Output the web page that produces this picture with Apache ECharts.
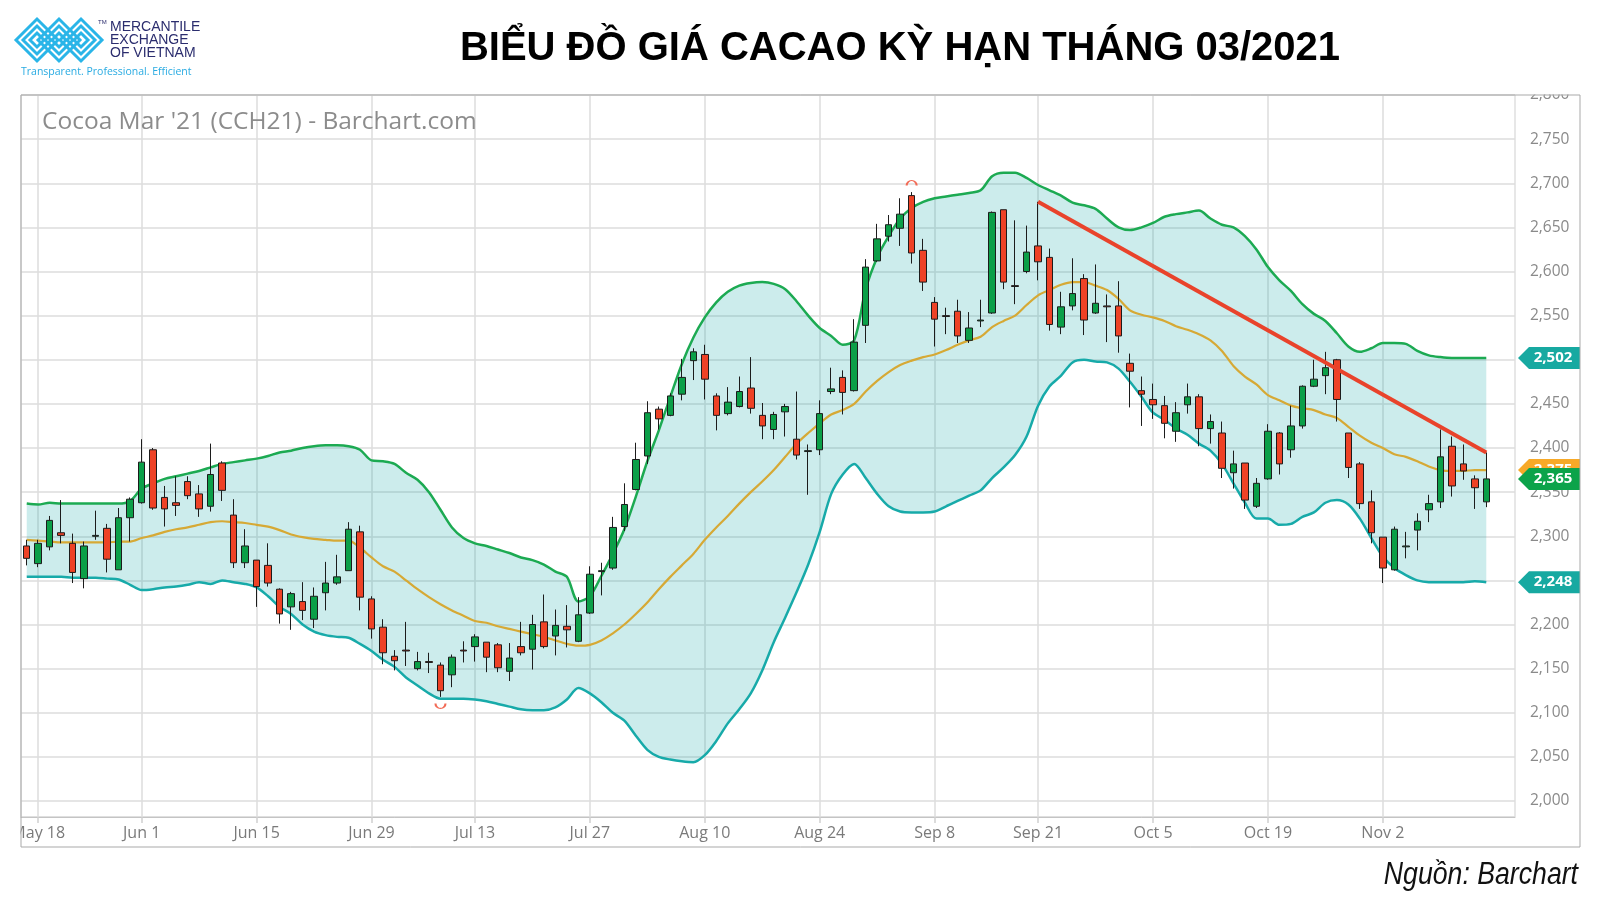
<!DOCTYPE html>
<html><head><meta charset="utf-8">
<script src="https://cdn.jsdelivr.net/npm/echarts@6/dist/echarts.min.js"></script>
<style>html,body{margin:0;padding:0;background:#fff}#c{width:1600px;height:900px}</style>
</head><body><div id="c"></div>
<script>
const dates = ['May 15','May 18','May 19','May 20','May 21','May 22','May 26','May 27','May 28','May 29',
'Jun 1','Jun 2','Jun 3','Jun 4','Jun 5','Jun 8','Jun 9','Jun 10','Jun 11','Jun 12','Jun 15','Jun 16','Jun 17','Jun 18','Jun 19','Jun 22','Jun 23','Jun 24','Jun 25','Jun 26','Jun 29','Jun 30',
'Jul 1','Jul 2','Jul 6','Jul 7','Jul 8','Jul 9','Jul 10','Jul 13','Jul 14','Jul 15','Jul 16','Jul 17','Jul 20','Jul 21','Jul 22','Jul 23','Jul 24','Jul 27','Jul 28','Jul 29','Jul 30','Jul 31',
'Aug 3','Aug 4','Aug 5','Aug 6','Aug 7','Aug 10','Aug 11','Aug 12','Aug 13','Aug 14','Aug 17','Aug 18','Aug 19','Aug 20','Aug 21','Aug 24','Aug 25','Aug 26','Aug 27','Aug 28','Aug 31',
'Sep 1','Sep 2','Sep 3','Sep 4','Sep 8','Sep 9','Sep 10','Sep 11','Sep 14','Sep 15','Sep 16','Sep 17','Sep 18','Sep 21','Sep 22','Sep 23','Sep 24','Sep 25','Sep 28','Sep 29','Sep 30',
'Oct 1','Oct 2','Oct 5','Oct 6','Oct 7','Oct 8','Oct 9','Oct 12','Oct 13','Oct 14','Oct 15','Oct 16','Oct 19','Oct 20','Oct 21','Oct 22','Oct 23','Oct 26','Oct 27','Oct 28','Oct 29','Oct 30',
'Nov 2','Nov 3','Nov 4','Nov 5','Nov 6','Nov 9','Nov 10','Nov 11','Nov 12','Nov 13'];
const padDates = ['Nov 16','Nov 17'];
const tickLabels = ['May 18','Jun 1','Jun 15','Jun 29','Jul 13','Jul 27','Aug 10','Aug 24','Sep 8','Sep 21','Oct 5','Oct 19','Nov 2'];

const opens = [2289,2269,2288,2304,2292,2252,2300,2309,2262,2321,
2338,2398,2344,2338,2362,2348,2334,2383,2324,2270,
2273,2267,2240,2220,2226,2206,2236,2247,2261,2305,
2229,2197,2164,2171,2150,2158,2154,2143,2171,2175,
2180,2177,2147,2175,2172,2203,2187,2198,2181,2213,
2260,2264,2311,2353,2391,2444,2437,2461,2499,2506,
2459,2439,2447,2468,2437,2421,2441,2410,2396,2398,
2464,2480,2465,2539,2612,2640,2649,2686,2624,2565,
2550,2555,2522,2544,2553,2670,2584,2600,2629,2616,
2537,2561,2592,2553,2561,2561,2496,2465,2455,2448,
2419,2449,2458,2422,2417,2372,2383,2334,2365,2417,
2398,2425,2470,2482,2500,2417,2382,2339,2299,2262,
2288,2307,2330,2339,2402,2382,2365,2339];
const closes = [2275,2292,2318,2301,2259,2289,2301,2274,2321,2342,
2384,2332,2331,2335,2346,2331,2370,2352,2270,2289,
2243,2247,2212,2235,2216,2232,2247,2254,2308,2231,
2195,2168,2159,2170,2158,2157,2125,2163,2170,2186,
2163,2151,2162,2168,2200,2175,2199,2194,2211,2257,
2261,2310,2336,2387,2440,2433,2459,2480,2509,2478,
2437,2452,2464,2445,2425,2438,2447,2392,2397,2439,
2467,2463,2520,2605,2637,2653,2665,2621,2588,2546,
2549,2527,2536,2545,2667,2588,2583,2622,2611,2540,
2560,2575,2545,2564,2560,2527,2487,2461,2449,2428,
2440,2458,2422,2430,2377,2382,2341,2360,2419,2382,
2425,2470,2478,2491,2455,2378,2337,2304,2264,2308,
2289,2317,2337,2390,2357,2374,2355,2365];
const lows = [2267,2265,2284,2292,2247,2241,2296,2259,2262,2294,
2337,2330,2311,2323,2342,2322,2328,2340,2264,2264,
2220,2243,2201,2194,2205,2196,2216,2245,2261,2216,
2184,2155,2148,2153,2148,2145,2118,2129,2157,2158,
2146,2146,2136,2165,2149,2173,2165,2174,2180,2212,
2233,2262,2306,2352,2382,2421,2436,2454,2477,2455,
2420,2437,2446,2439,2410,2410,2413,2387,2347,2392,
2461,2438,2464,2519,2611,2634,2629,2609,2578,2515,
2529,2519,2519,2537,2552,2580,2563,2598,2590,2533,
2529,2556,2528,2552,2520,2508,2446,2425,2433,2411,
2407,2439,2402,2405,2366,2354,2331,2332,2364,2370,
2389,2422,2469,2461,2430,2366,2331,2292,2247,2261,
2275,2284,2316,2332,2345,2364,2331,2333];
const highs = [2296,2296,2323,2341,2303,2294,2329,2314,2332,2344,
2410,2400,2357,2368,2368,2358,2405,2385,2342,2308,
2273,2292,2241,2237,2248,2242,2271,2279,2316,2312,
2232,2206,2171,2203,2169,2168,2157,2166,2181,2189,
2180,2179,2179,2203,2211,2234,2217,2222,2231,2266,
2270,2322,2360,2406,2453,2447,2462,2501,2513,2517,
2462,2469,2481,2503,2451,2441,2450,2464,2404,2454,
2491,2488,2546,2614,2654,2664,2683,2690,2637,2571,
2559,2568,2554,2568,2668,2670,2658,2652,2679,2626,
2577,2615,2597,2608,2574,2589,2507,2481,2473,2459,
2452,2473,2461,2438,2430,2397,2383,2366,2427,2418,
2448,2471,2500,2509,2501,2417,2384,2352,2299,2311,
2305,2326,2347,2421,2413,2404,2369,2395];

const upperBand = [2337,2336,2338,2337,2337,2337,2337,2337,2337,2340,
2354,2360,2365,2368,2371,2374,2378,2382,2384,2386,
2388,2391,2395,2397,2400,2402,2403,2403,2402,2398,
2386,2385,2382,2372,2364,2350,2330,2310,2298,2292,
2289,2285,2281,2276,2273,2268,2260,2254,2226,2232,
2255,2280,2308,2345,2385,2420,2458,2495,2525,2548,
2565,2577,2584,2587,2588,2586,2580,2566,2550,2536,
2527,2517,2522,2580,2616,2640,2660,2672,2679,2683,
2685,2687,2689,2692,2708,2712,2712,2706,2698,2692,
2686,2678,2675,2671,2660,2650,2647,2650,2655,2662,
2665,2667,2669,2660,2653,2650,2640,2625,2605,2590,
2578,2563,2552,2544,2530,2515,2509,2513,2519,2519,
2518,2510,2505,2503,2502,2502,2502,2502];
const midBand = [2296,2295,2294,2293,2293,2293,2293,2293,2294,2294,
2298,2301,2305,2308,2310,2313,2316,2317,2316,2315,
2313,2311,2307,2302,2299,2297,2296,2295,2295,2287,
2276,2266,2260,2250,2240,2231,2223,2216,2210,2204,
2202,2198,2195,2192,2189,2186,2182,2178,2176,2177,
2182,2190,2200,2212,2225,2240,2254,2267,2280,2296,
2310,2323,2337,2350,2362,2375,2390,2405,2417,2428,
2438,2443,2450,2464,2476,2486,2494,2499,2503,2506,
2511,2517,2522,2526,2537,2544,2550,2562,2573,2579,
2585,2588,2588,2584,2579,2569,2556,2551,2548,2544,
2538,2534,2529,2522,2510,2493,2481,2472,2460,2454,
2448,2445,2443,2438,2434,2424,2414,2406,2400,2393,
2390,2385,2379,2375,2374,2374,2375,2375];
const lowerBand = [2254,2254,2254,2254,2253,2253,2253,2252,2251,2245,
2239,2240,2242,2243,2245,2248,2246,2250,2248,2246,
2242,2232,2220,2212,2200,2192,2188,2186,2185,2178,
2170,2160,2152,2140,2131,2122,2116,2116,2116,2115,
2113,2110,2107,2104,2103,2103,2106,2115,2128,2122,
2112,2100,2091,2074,2058,2050,2047,2045,2044,2052,
2068,2088,2104,2122,2148,2180,2208,2237,2268,2305,
2348,2370,2382,2366,2348,2334,2328,2327,2327,2328,
2334,2340,2346,2352,2366,2378,2392,2413,2448,2470,
2482,2497,2500,2498,2497,2490,2475,2458,2440,2432,
2422,2415,2405,2397,2382,2360,2338,2320,2320,2313,
2314,2322,2327,2338,2341,2336,2320,2298,2277,2264,
2256,2250,2248,2248,2248,2248,2249,2248];

const trendDates = ['Sep 21','Nov 13'];
const trendValues = [2679, 2395];
const highMark = ['Sep 3', 2690];
const lowMark = ['Jul 8', 2118];

const fmt = v => Math.round(v).toLocaleString('en-US');
const cats = dates.concat(padDates);
const isTick = (i, v) => tickLabels.indexOf(v) >= 0;
const candleData = dates.map((d, i) => [opens[i], closes[i], lows[i], highs[i]]);
const bandDiff = upperBand.map((u, i) => u - lowerBand[i]);

const chart = echarts.init(document.getElementById('c'), null, {renderer: 'canvas'});
const gridL = 21, gridR = 85, gridT = 95, gridB = 83;

chart.setOption({
  animation: false,
  backgroundColor: '#fff',
  grid: {left: gridL, right: gridR, top: gridT, bottom: gridB, show: true, borderColor: '#cfcfcf', borderWidth: 1},
  xAxis: {
    type: 'category', data: cats, boundaryGap: true,
    axisLine: {show: true, lineStyle: {color: '#c4c4c4', width: 1}},
    axisTick: {show: true, alignWithLabel: true, interval: isTick, length: 6, lineStyle: {color: '#cfcfcf', width: 1.5}},
    axisLabel: {interval: isTick, color: '#7a7a7a', fontSize: 16, fontFamily: 'Open Sans', margin: 8},
    splitLine: {show: true, interval: isTick, alignWithLabel: true, lineStyle: {color: '#dcdcdc', width: 1.5}}
  },
  yAxis: {
    type: 'value', position: 'right', min: 1981.9, max: 2800, splitNumber: 16, minInterval: 50, maxInterval: 50,
    scale: true,
    axisLine: {show: false}, axisTick: {show: false},
    axisLabel: {showMinLabel: false, color: '#8a8a8a', fontSize: 15.5, fontFamily: 'Open Sans', margin: 15, formatter: v => fmt(v)},
    splitLine: {show: true, lineStyle: {color: '#dcdcdc', width: 1.5}}
  },
  series: [
    {type: 'line', data: lowerBand, stack: 'bb', symbol: 'none', smooth: 0.3, lineStyle: {opacity: 0}, silent: true, z: 1},
    {type: 'line', data: bandDiff, stack: 'bb', symbol: 'none', smooth: 0.3, lineStyle: {opacity: 0}, areaStyle: {color: 'rgba(23,170,168,0.22)', opacity: 1}, silent: true, z: 1},
    {type: 'line', data: upperBand, symbol: 'none', smooth: 0.3, lineStyle: {color: '#1caa52', width: 2.5}, z: 2},
    {type: 'line', data: lowerBand, symbol: 'none', smooth: 0.3, lineStyle: {color: '#17aaa9', width: 2.5}, z: 2},
    {type: 'line', data: midBand, symbol: 'none', smooth: 0.3, lineStyle: {color: '#d6a935', width: 2.2}, z: 2},
    {type: 'candlestick', data: candleData, barWidth: 7, z: 3,
      itemStyle: {color: '#0b9f48', color0: '#ee4226', borderColor: '#1c1c1c', borderColor0: '#1c1c1c', borderWidth: 1},
      markPoint: {silent: true, label: {show: false}, data: [
        {coord: highMark, symbol: 'path://M0,6 A6,6 0 0 1 12,6', symbolSize: [10, 5], symbolOffset: [0, -9], itemStyle: {color: 'none', borderColor: '#f26a55', borderWidth: 1.5}},
        {coord: lowMark, symbol: 'path://M0,0 A6,6 0 0 0 12,0', symbolSize: [10, 5], symbolOffset: [0, 9], itemStyle: {color: 'none', borderColor: '#f26a55', borderWidth: 1.5}}
      ]}
    },
    {type: 'line', data: trendDates.map((d, i) => [d, trendValues[i]]), symbol: 'none', lineStyle: {color: '#e9432b', width: 4}, z: 5}
  ]
});

const yPix = v => chart.convertToPixel({yAxisIndex: 0}, v);
const tagX0 = 1518, tagX1 = 1580;
function tag(v, color) {
  const y = yPix(v);
  return [
    {type: 'polygon', z: 50, shape: {points: [[tagX0, y], [tagX0 + 11, y - 11], [tagX1, y - 11], [tagX1, y + 11], [tagX0 + 11, y + 11]]}, style: {fill: color}},
    {type: 'text', z: 50, x: 1553, y: y, style: {text: fmt(v), fill: '#fff', font: 'bold 15px "Open Sans"', textAlign: 'center', textVerticalAlign: 'middle'}}
  ];
}
const last = dates.length - 1;
const logoDiamonds = [];
[37, 59, 81].forEach(cx => [21, 14, 7].forEach(h => logoDiamonds.push({
  type: 'polygon', z: 60, shape: {points: [[cx - h, 40], [cx, 40 - h], [cx + h, 40], [cx, 40 + h]]},
  style: {fill: 'none', stroke: '#2ab5e8', lineWidth: 3}
})));

chart.setOption({
  graphic: [
    {type: 'rect', z: 100, shape: {x: 0, y: 818, width: 20.5, height: 30}, style: {fill: '#fff'}},
    {type: 'rect', z: 100, shape: {x: 1516, y: 78, width: 84, height: 16.5}, style: {fill: '#fff'}},
    {type: 'rect', z: 101, shape: {x: 21, y: 95, width: 1559, height: 752}, style: {fill: 'none', stroke: '#a9a9a9', lineWidth: 1}},
    ...tag(midBand[last], '#f7a928'),
    ...tag(closes[last], '#0ca34a'),
    ...tag(upperBand[last], '#17a9a1'),
    ...tag(lowerBand[last], '#17a9a1'),
    {type: 'text', z: 60, x: 42, y: 122, style: {text: "Cocoa Mar '21 (CCH21) - Barchart.com", fill: '#8c8c8c', font: '24.5px "Open Sans"', textVerticalAlign: 'middle'}},
    {type: 'text', z: 60, x: 900, y: 49, style: {text: 'BIỂU ĐỒ GIÁ CACAO KỲ HẠN THÁNG 03/2021', fill: '#000', font: 'bold 40px "Liberation Sans"', textAlign: 'center', textVerticalAlign: 'middle'}},
    {type: 'text', z: 60, x: 1578, y: 875, scaleX: 0.86, originX: 0, originY: 0, style: {text: 'Nguồn: Barchart', fill: '#111', font: 'italic 31px "Liberation Sans"', textAlign: 'right', textVerticalAlign: 'middle'}},
    ...logoDiamonds,
    {type: 'text', z: 60, x: 110, y: 27, style: {text: 'MERCANTILE', fill: '#2b2d6e', font: '14px "Liberation Sans"', textVerticalAlign: 'middle'}},
    {type: 'text', z: 60, x: 110, y: 40, style: {text: 'EXCHANGE', fill: '#2b2d6e', font: '14px "Liberation Sans"', textVerticalAlign: 'middle'}},
    {type: 'text', z: 60, x: 110, y: 53, style: {text: 'OF VIETNAM', fill: '#2b2d6e', font: '14px "Liberation Sans"', textVerticalAlign: 'middle'}},
    {type: 'text', z: 60, x: 98, y: 22, style: {text: 'TM', fill: '#2b2d6e', font: '6px "Liberation Sans"', textVerticalAlign: 'middle'}},
    {type: 'text', z: 60, x: 21, y: 72, style: {text: 'Transparent. Professional. Efficient', fill: '#29abe2', font: '10.5px "Open Sans"', textVerticalAlign: 'middle'}}
  ]
});
</script></body></html>
